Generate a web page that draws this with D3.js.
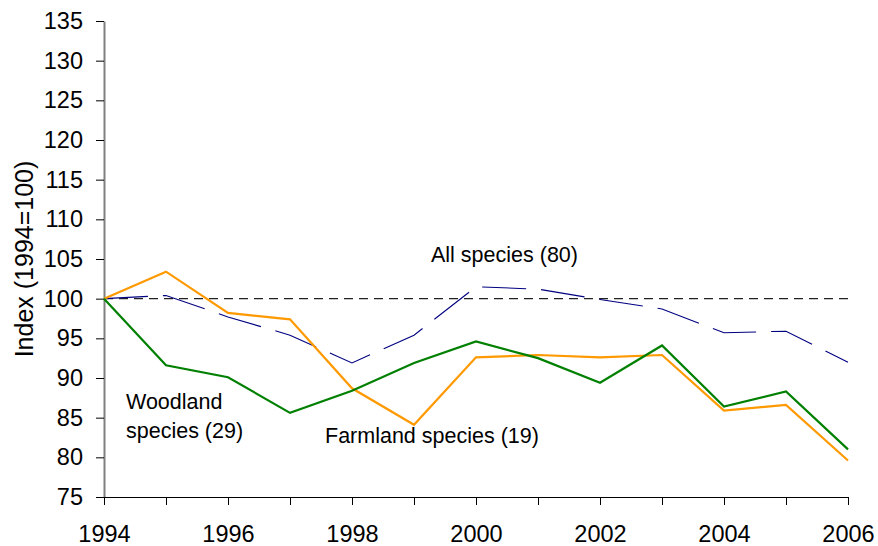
<!DOCTYPE html>
<html>
<head>
<meta charset="utf-8">
<script src="https://cdn.jsdelivr.net/npm/d3@7"></script>
<style>
  body { margin: 0; background: #fff; }
  text { font-family: "Liberation Sans", Arial, sans-serif; fill: #000; }
</style>
</head>
<body>
<svg id="chart" width="878" height="546"></svg>
<script>
// data
const years = [1994, 1995, 1996, 1997, 1998, 1999, 2000, 2001, 2002, 2003, 2004, 2005, 2006];
const allSpecies = [100, 100.4, 97.7, 95.4, 91.9, 95.4, 101.5, 101.2, 99.9, 98.7, 95.7, 95.9, 92.0];
const farmland = [100, 103.4, 98.2, 97.4, 88.7, 84.1, 92.6, 92.9, 92.6, 92.9, 85.9, 86.6, 79.6];
const woodland = [100, 91.6, 90.1, 85.6, 88.4, 91.9, 94.6, 92.5, 89.4, 94.1, 86.4, 88.3, 81.0];
const yTicks = [75, 80, 85, 90, 95, 100, 105, 110, 115, 120, 125, 130, 135];
const xLabelYears = [1994, 1996, 1998, 2000, 2002, 2004, 2006];

const margin = {left: 104, right: 30, top: 21, bottom: 49};
const W = 878, H = 546;

const svg = d3.select("#chart");

const x = d3.scaleLinear()
    .domain([1994, 2006])
    .range([margin.left, W - margin.right]);
const y = d3.scaleLinear()
    .domain([75, 135])
    .range([H - margin.bottom, margin.top]);

// y axis (gray spine, black ticks)
const yAxis = svg.append("g")
    .attr("transform", "translate(" + margin.left + ",0)")
    .call(d3.axisLeft(y).tickValues(yTicks).tickSize(8).tickSizeOuter(0).tickPadding(13));
yAxis.select(".domain").attr("stroke", "#808080").attr("stroke-width", 2);
yAxis.selectAll(".tick line").attr("stroke", "#000");
yAxis.selectAll(".tick text")
    .attr("font-size", "23.5px")
    .attr("font-family", "Liberation Sans, Arial, sans-serif");

// x axis, tick each year, label each other year
const xAxis = svg.append("g")
    .attr("transform", "translate(0," + y(75) + ")")
    .call(d3.axisBottom(x)
        .tickValues(years)
        .tickFormat(d => xLabelYears.includes(d) ? d : "")
        .tickSize(8).tickSizeOuter(0).tickPadding(20));
xAxis.select(".domain").attr("stroke", "#000");
xAxis.selectAll(".tick text")
    .attr("font-size", "23.5px")
    .attr("font-family", "Liberation Sans, Arial, sans-serif");

// axis title
svg.append("text")
    .attr("transform", "translate(33," + y(105) + ") rotate(-90)")
    .attr("text-anchor", "middle")
    .attr("font-size", "25px")
    .text("Index (1994=100)");

// baseline at 100
svg.append("line")
    .attr("x1", x(1994)).attr("x2", x(2006))
    .attr("y1", y(100)).attr("y2", y(100))
    .attr("stroke", "#222")
    .attr("stroke-width", 1.3)
    .attr("stroke-dasharray", "9,6");

const line = d3.line()
    .x((d, i) => x(years[i]))
    .y(d => y(d));

svg.append("path")
    .datum(allSpecies)
    .attr("d", line)
    .attr("fill", "none")
    .attr("stroke", "#000080")
    .attr("stroke-width", 1.1)
    .attr("stroke-dasharray", "44,15");

svg.append("path")
    .datum(farmland)
    .attr("d", line)
    .attr("fill", "none")
    .attr("stroke", "#ff9900")
    .attr("stroke-width", 2.2);

svg.append("path")
    .datum(woodland)
    .attr("d", line)
    .attr("fill", "none")
    .attr("stroke", "#008000")
    .attr("stroke-width", 2.2);

// series labels
const labels = [
    {t: "All species (80)", x: 431, y: 262},
    {t: "Woodland", x: 126, y: 409},
    {t: "species (29)", x: 126, y: 438},
    {t: "Farmland species (19)", x: 325, y: 443}
];
svg.selectAll("text.lbl")
    .data(labels)
    .enter()
    .append("text")
    .attr("class", "lbl")
    .attr("x", d => d.x)
    .attr("y", d => d.y)
    .attr("font-size", "21.5px")
    .text(d => d.t);
</script>
</body>
</html>
